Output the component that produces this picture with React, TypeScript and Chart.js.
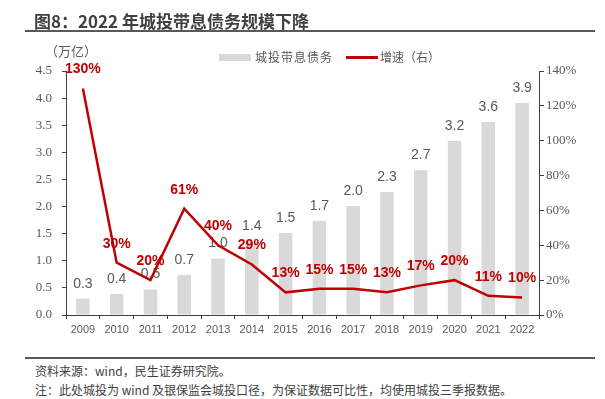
import React, { useEffect, useRef } from "react";
import { Chart, registerables } from "chart.js";

Chart.register(...registerables);

const years = ["2009", "2010", "2011", "2012", "2013", "2014", "2015", "2016", "2017", "2018", "2019", "2020", "2021", "2022"];
const debt = [0.3, 0.39, 0.47, 0.74, 1.04, 1.36, 1.51, 1.74, 2.01, 2.27, 2.67, 3.21, 3.56, 3.91];
const growth = [130, 30, 20, 61, 40, 29, 13, 15, 15, 13, 17, 20, 11, 10];
const leftMax = 4.5;
const leftStep = 0.5;
const rightMax = 140;
const rightStep = 20;

const GRAY_TEXT = "#595959";
const RED = "#C00000";
const BAR = "#D9D9D9";
const AXIS = "#404040";

const labelPlugin = {
  id: "valueLabels",
  afterDatasetDraw(chart: any, args: any) {
    if (args.index !== 0) return;
    const ctx = chart.ctx;
    ctx.save();
    ctx.font = "14px 'Liberation Sans', Arial, sans-serif";
    ctx.fillStyle = GRAY_TEXT;
    ctx.textAlign = "center";
    ctx.textBaseline = "middle";
    args.meta.data.forEach((el: any, i: number) => {
      ctx.fillText(debt[i].toFixed(1), el.x, el.y - 15);
    });
    ctx.restore();
  },
  afterDatasetsDraw(chart: any) {
    const meta = chart.getDatasetMeta(1);
    const ctx = chart.ctx;
    ctx.save();
    ctx.font = "bold 14px 'Liberation Sans', Arial, sans-serif";
    ctx.fillStyle = RED;
    ctx.textAlign = "center";
    ctx.textBaseline = "middle";
    meta.data.forEach((el: any, i: number) => {
      ctx.fillText(growth[i] + "%", el.x, el.y - 19);
    });
    ctx.restore();
  },
};

function ChartCanvas() {
  const ref = useRef<HTMLCanvasElement | null>(null);
  useEffect(() => {
    if (!ref.current) return;
    const chart = new Chart(ref.current, {
      type: "bar",
      data: {
        labels: years,
        datasets: [
          {
            type: "bar",
            label: "城投带息债务",
            data: debt,
            backgroundColor: BAR,
            yAxisID: "y",
            barPercentage: 0.4,
            categoryPercentage: 1,
            order: 2,
          } as any,
          {
            type: "line",
            label: "增速（右）",
            data: growth,
            borderColor: RED,
            backgroundColor: RED,
            borderWidth: 2.5,
            pointRadius: 0,
            tension: 0,
            yAxisID: "y1",
            order: 1,
          } as any,
        ],
      },
      options: {
        responsive: false,
        maintainAspectRatio: false,
        animation: false,
        layout: { padding: { top: 71, left: 0, right: 0, bottom: 0 } },
        plugins: { legend: { display: false }, tooltip: { enabled: false }, title: { display: false } },
        scales: {
          x: {
            type: "category",
            offset: true,
            grid: { offset: true, drawOnChartArea: false, drawTicks: true, tickLength: 4, color: AXIS },
            border: { color: AXIS, width: 1 },
            ticks: {
              color: GRAY_TEXT,
              font: { family: "'Liberation Sans', Arial, sans-serif", size: 11 },
              padding: 4,
              maxRotation: 0,
              autoSkip: false,
            },
            afterFit: (s: any) => {
              s.height = 35;
            },
          },
          y: {
            position: "left",
            min: 0,
            max: leftMax,
            grid: { drawOnChartArea: false, drawTicks: true, tickLength: 4, color: AXIS },
            border: { color: AXIS, width: 1 },
            ticks: {
              stepSize: leftStep,
              color: GRAY_TEXT,
              font: { family: "'Liberation Serif', 'Times New Roman', serif", size: 13 },
              padding: 10,
              callback: (v: any) => Number(v).toFixed(1),
            },
            afterFit: (s: any) => {
              s.width = 66;
            },
          },
          y1: {
            position: "right",
            min: 0,
            max: rightMax,
            grid: { drawOnChartArea: false, drawTicks: true, tickLength: 5, color: AXIS },
            border: { color: AXIS, width: 1 },
            ticks: {
              stepSize: rightStep,
              color: GRAY_TEXT,
              font: { family: "'Liberation Serif', 'Times New Roman', serif", size: 13 },
              padding: 2,
              callback: (v: any) => v + "%",
            },
            afterFit: (s: any) => {
              s.width = 66;
            },
          },
        },
      } as any,
      plugins: [labelPlugin],
    });
    return () => chart.destroy();
  }, []);
  return (
    <canvas
      ref={ref}
      width={605}
      height={350}
      style={{ position: "absolute", left: 0, top: 0, width: 605, height: 350 }}
    />
  );
}

const cjk = "'Noto Sans CJK SC', 'Noto Sans', sans-serif";

export default function App() {
  return (
    <div style={{ position: "absolute", left: 0, top: 0, width: 605, height: 399, background: "#fff", overflow: "hidden" }}>
      <ChartCanvas />
      <div
        style={{
          position: "absolute",
          left: 34,
          top: 11,
          fontFamily: cjk,
          fontWeight: 700,
          fontSize: 17,
          lineHeight: "20px",
          color: "#404040",
          whiteSpace: "nowrap",
        }}
      >
        图8：2022 年城投带息债务规模下降
      </div>
      <div style={{ position: "absolute", left: 25, top: 30, width: 570, height: 2, background: "#595959" }} />
      <div
        style={{
          position: "absolute",
          left: 45,
          top: 43,
          fontFamily: cjk,
          fontSize: 13,
          lineHeight: "16px",
          color: GRAY_TEXT,
          whiteSpace: "nowrap",
        }}
      >
        （万亿）
      </div>
      <div style={{ position: "absolute", left: 219, top: 54, width: 32, height: 7, background: BAR }} />
      <div
        style={{
          position: "absolute",
          left: 255,
          top: 49,
          fontFamily: cjk,
          fontSize: 12,
          lineHeight: "16px",
          letterSpacing: 1,
          color: GRAY_TEXT,
          whiteSpace: "nowrap",
        }}
      >
        城投带息债务
      </div>
      <div style={{ position: "absolute", left: 346, top: 56, width: 32, height: 3, background: RED }} />
      <div
        style={{
          position: "absolute",
          left: 380,
          top: 49,
          fontFamily: cjk,
          fontSize: 12,
          lineHeight: "16px",
          letterSpacing: 0,
          color: GRAY_TEXT,
          whiteSpace: "nowrap",
        }}
      >
        增速（右）
      </div>
      <div style={{ position: "absolute", left: 25, top: 357, width: 570, height: 2, background: "#595959" }} />
      <div
        style={{
          position: "absolute",
          left: 35,
          top: 363,
          fontFamily: cjk,
          fontSize: 12,
          lineHeight: "16px",
          color: "#404040",
          whiteSpace: "nowrap",
        }}
      >
        资料来源：wind，民生证券研究院。
      </div>
      <div
        style={{
          position: "absolute",
          left: 35,
          top: 382,
          fontFamily: cjk,
          fontSize: 12,
          lineHeight: "16px",
          color: "#404040",
          whiteSpace: "nowrap",
        }}
      >
        注：此处城投为 wind 及银保监会城投口径，为保证数据可比性，均使用城投三季报数据。
      </div>
    </div>
  );
}
